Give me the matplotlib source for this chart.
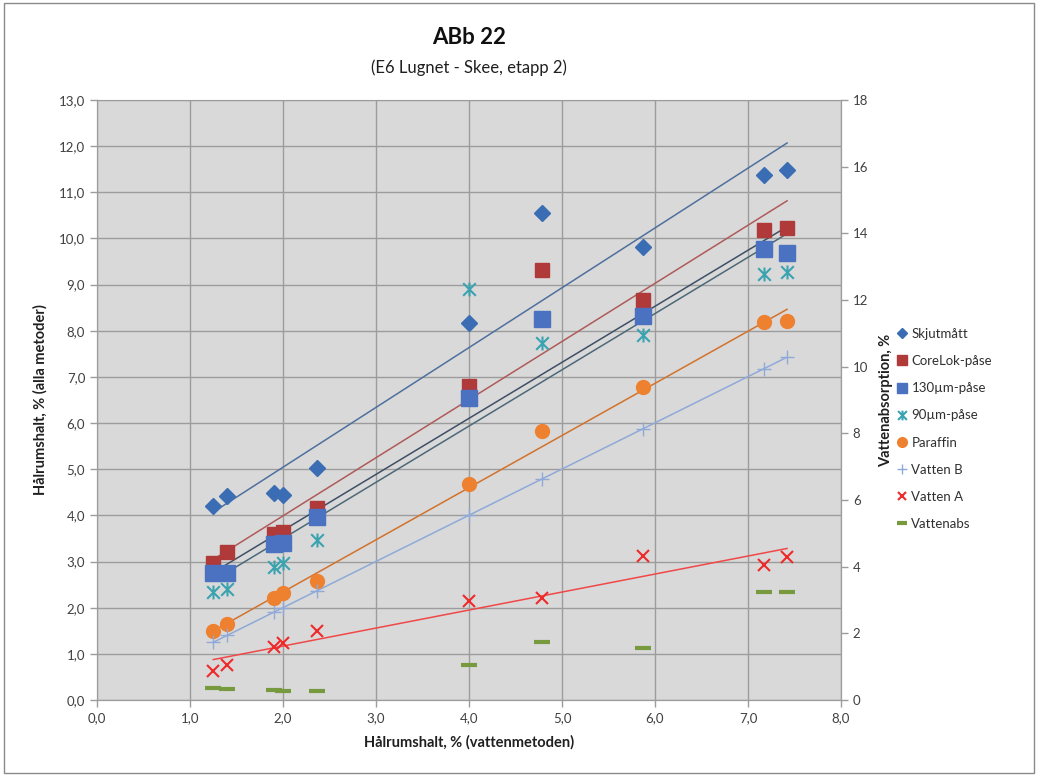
import matplotlib.pyplot as plt
import numpy as np
from matplotlib.path import Path
from matplotlib.ticker import FuncFormatter, MultipleLocator

plt.rcParams['font.family'] = ['Lato', 'DejaVu Sans']

# Hålrumshalt enligt vattenmetoden (x)
x = [1.25, 1.40, 1.90, 2.00, 2.37, 4.00, 4.78, 5.87, 7.17, 7.42]

skjutmatt = [4.20, 4.43, 4.48, 4.45, 5.02, 8.16, 10.56, 9.81, 11.38, 11.48]
corelok = [2.97, 3.20, 3.60, 3.65, 4.17, 6.80, 9.31, 8.67, 10.18, 10.22]
p130 = [2.75, 2.75, 3.38, 3.40, 3.96, 6.54, 8.25, 8.31, 9.77, 9.68]
p90 = [2.33, 2.40, 2.88, 2.97, 3.47, 8.91, 7.73, 7.91, 9.23, 9.28]
paraffin = [1.50, 1.65, 2.20, 2.31, 2.58, 4.67, 5.83, 6.79, 8.18, 8.22]
vatten_b = [1.25, 1.40, 1.90, 2.00, 2.37, 4.01, 4.78, 5.88, 7.17, 7.43]
vatten_a = [0.62, 0.76, 1.15, 1.24, 1.49, 2.15, 2.22, 3.13, 2.92, 3.09]
vattenabs = [0.35, 0.32, 0.30, 0.28, 0.28, 1.05, 1.75, 1.57, 3.23, 3.25]

# Excel-style star: an X with a vertical bar through it
star = Path([(-1, -1), (1, 1), (-1, 1), (1, -1), (0, -1.1), (0, 1.1)],
            [Path.MOVETO, Path.LINETO, Path.MOVETO, Path.LINETO, Path.MOVETO, Path.LINETO])

fig = plt.figure(figsize=(10.38, 7.76), dpi=100)
ax = fig.add_axes([97 / 1038, 1 - 700 / 776, 744 / 1038, 600 / 776])
ax2 = ax.twinx()

ax.set_facecolor('#d9d9d9')
grid_c = '#9c9c9c'

# series: label, values, marker, size, colour, trend colour
series = [
    ('Skjutmått', skjutmatt, 'D', 8, '#3a6db3', '#4f6f9e'),
    ('CoreLok-påse', corelok, 's', 10, '#b03a3a', '#b05a5a'),
    ('130µm-påse', p130, 's', 11, '#4a72c0', '#3e4f66'),
    ('90µm-påse', p90, star, 10, '#3aa3b0', '#4d6878'),
    ('Paraffin', paraffin, 'o', 10, '#ee8130', '#d2722c'),
    ('Vatten B', vatten_b, '+', 10, '#8fa9d8', '#8fa9d8'),
    ('Vatten A', vatten_a, 'x', 9, '#ee2a2a', '#f04848'),
]

xs = np.array(x)
xl = np.array([xs.min(), xs.max()])
handles = []
for label, vals, mk, ms, col, tcol in series:
    k, m = np.polyfit(xs, vals, 1)
    ax.plot(xl, k * xl + m, color=tcol, lw=1.1, zorder=2)
    if isinstance(mk, Path) or mk in ('+', 'x'):
        h, = ax.plot(x, vals, ls='none', marker=mk, ms=ms, mew=1.0 if mk == '+' else 1.5,
                     color=col, mfc='none', label=label, zorder=3)
    else:
        h, = ax.plot(x, vals, ls='none', marker=mk, ms=ms, mfc=col, mec=col,
                     label=label, zorder=3)
    handles.append(h)

h, = ax2.plot(x, vattenabs, ls='none', marker='_', ms=11, mew=3, color='#779a3e',
              label='Vattenabs', zorder=3)
handles.append(h)

ax.set_xlim(0, 8)
ax.set_ylim(0, 13)
ax2.set_ylim(0, 18)
ax.xaxis.set_major_locator(MultipleLocator(1))
ax.yaxis.set_major_locator(MultipleLocator(1))
ax2.yaxis.set_major_locator(MultipleLocator(2))

comma = FuncFormatter(lambda v, p: f'{v:.1f}'.replace('.', ','))
ax.xaxis.set_major_formatter(comma)
ax.yaxis.set_major_formatter(comma)

ax.grid(True, color=grid_c, lw=1.0)
ax.set_axisbelow(True)
for a in (ax, ax2):
    for s in a.spines.values():
        s.set_color(grid_c)
    a.tick_params(colors='#404040', labelsize=9.5, length=5, width=1, direction='out')
    a.tick_params(axis='both', which='both', color=grid_c)
ax2.spines['top'].set_visible(False)
ax.spines['top'].set_color(grid_c)

ax.set_xlabel('Hålrumshalt, % (vattenmetoden)', fontsize=10.5, fontweight='bold',
              color='#202020', labelpad=8)
ax.set_ylabel('Hålrumshalt, % (alla metoder)', fontsize=10.5, fontweight='bold',
              color='#202020', labelpad=8)
ax2.set_ylabel('Vattenabsorption, %', fontsize=10.5, fontweight='bold',
               color='#202020', labelpad=8)

fig.text(0.5 * (97 + 841) / 1038, 1 - 37 / 776, 'ABb 22', ha='center', va='center',
         fontsize=16, fontweight='bold', color='#101010')
fig.text(0.5 * (97 + 841) / 1038, 1 - 68 / 776, '(E6 Lugnet - Skee, etapp 2)',
         ha='center', va='center', fontsize=12, color='#202020')

fig.legend(handles=handles, loc='center left', bbox_to_anchor=(885 / 1038, 1 - 429 / 776),
           frameon=False, fontsize=9.5, labelspacing=1.15, handlelength=0.8,
           handletextpad=0.3, markerscale=0.7, labelcolor='#303030')

fig.patches.append(plt.Rectangle((0.004, 0.004), 0.992, 0.992, transform=fig.transFigure,
                                 fill=False, ec='#8a8a8a', lw=1))

fig.savefig('out.png', dpi=100)
